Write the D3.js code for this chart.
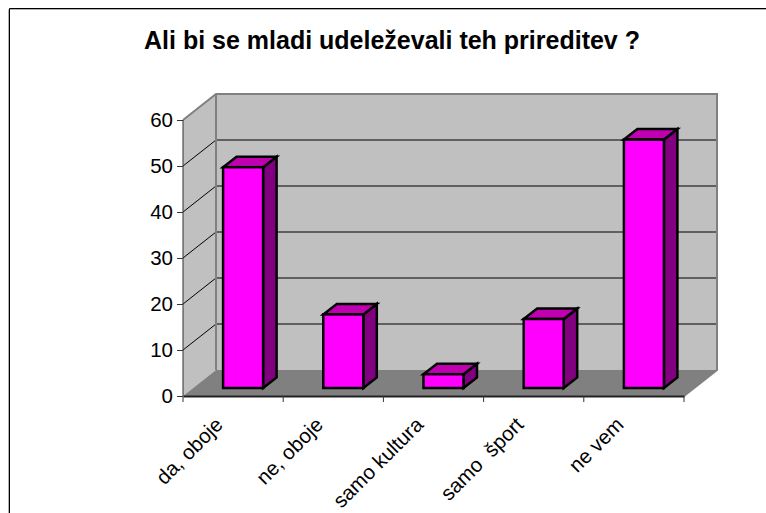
<!DOCTYPE html>
<html>
<head>
<meta charset="utf-8">
<script src="https://cdn.jsdelivr.net/npm/d3@7"></script>
<style>
    html, body { margin: 0; padding: 0; background: #fff; overflow: hidden; }
    text { font-family: "Liberation Sans", Arial, sans-serif; fill: #000; }
</style>
</head>
<body>
<div id="chart"></div>
<script>
const categories = ["da, oboje", "ne, oboje", "samo kultura", "samo  šport", "ne vem"];
const values = [48, 16, 3, 15, 54];
const yTicks = [0, 10, 20, 30, 40, 50, 60];
const title = "Ali bi se mladi udeleževali teh prireditev ?";

const svg = d3.select('#chart').append('svg')
    .attr('width', 766)
    .attr('height', 513);

// the chart frame is cut off by the picture: only top and left edges show
svg.append('path')
    .attr('d', 'M8.5,513V9.5H766')
    .attr('fill', 'none').attr('stroke', '#b0b0b0');
svg.append('path')
    .attr('d', 'M9.5,513V8.5H766')
    .attr('fill', 'none').attr('stroke', '#000');

svg.append('text')
    .attr('x', 392).attr('y', 49)
    .attr('text-anchor', 'middle')
    .style('font-size', '25px')
    .style('font-weight', 'bold')
    .text(title);

let x = d3.scaleBand().domain(categories).range([183, 684]);
let y = d3.scaleLinear().domain([0, 60]).range([396, 120]);

// depth of the fake 3d box, and how far the bars sit inside it
let depth = { dx: 33, dy: -26 };
let front = { dx: 10, dy: -8 };
let barDepth = { dx: 13.5, dy: -10.5 };
let barWidth = 40;
let line = d3.line();

let x0 = x.range()[0], x1 = x.range()[1];
let yBottom = y(0), yTop = y(60);

// side wall
svg.append('path')
    .attr('d', line([[x0, yBottom], [x0 + depth.dx, yBottom + depth.dy], [x0 + depth.dx, yTop + depth.dy], [x0, yTop]]) + 'Z')
    .attr('fill', '#c0c0c0');

// back wall
svg.append('rect')
    .attr('x', x0 + depth.dx).attr('y', yTop + depth.dy)
    .attr('width', x1 - x0).attr('height', yBottom - yTop)
    .attr('fill', '#c0c0c0');

// floor
svg.append('path')
    .attr('d', line([[x0, yBottom], [x0 + depth.dx, yBottom + depth.dy], [x1 + depth.dx, yBottom + depth.dy], [x1, yBottom]]) + 'Z')
    .attr('fill', '#808080');

// gridlines across side wall and back wall
yTicks.filter(d => d > 0 && d < 60).forEach(d => {
    svg.append('path')
        .attr('d', line([[x0, y(d)], [x0 + depth.dx, y(d) + depth.dy], [x1 + depth.dx, y(d) + depth.dy]]))
        .attr('fill', 'none').attr('stroke', '#000').attr('stroke-width', 1);
});

// wall outline
svg.append('path')
    .attr('d', line([[x0, yTop], [x0 + depth.dx, yTop + depth.dy], [x1 + depth.dx, yTop + depth.dy], [x1 + depth.dx, yBottom + depth.dy], [x1, yBottom]]))
    .attr('fill', 'none').attr('stroke', '#808080').attr('stroke-width', 2);
svg.append('line')
    .attr('x1', x0 + depth.dx).attr('x2', x0 + depth.dx)
    .attr('y1', yTop + depth.dy).attr('y2', yBottom + depth.dy)
    .attr('stroke', '#808080').attr('stroke-width', 2);

// axes
let yAxis = d3.axisLeft(y).tickValues(yTicks).tickSize(6).tickPadding(4);
let yG = svg.append('g').attr('transform', `translate(${x0},0)`).call(yAxis);
yG.selectAll('text').style('font-size', '20.5px');
yG.select('.domain').attr('d', `M0,${yTop}V${yBottom}`).attr('stroke', '#333');
yG.selectAll('.tick line').attr('stroke', '#333');

let xAxis = d3.axisBottom(x).tickSize(0).tickFormat('');
let xG = svg.append('g').attr('transform', `translate(0,${yBottom})`).call(xAxis);
xG.select('.domain').attr('stroke', '#222').attr('stroke-width', 2);

// ticks sit on the band edges, not the centres
let edges = categories.map(d => x(d)).concat([x1]);
svg.selectAll('.x-tick')
    .data(edges)
    .enter().append('line')
    .attr('class', 'x-tick')
    .attr('x1', d => d).attr('x2', d => d)
    .attr('y1', yBottom).attr('y2', yBottom + 6)
    .attr('stroke', '#333');

svg.selectAll('.x-label')
    .data(categories)
    .enter().append('text')
    .attr('class', 'x-label')
    .attr('text-anchor', 'end')
    .style('font-size', '20.5px')
    .style('white-space', 'pre')
    .attr('transform', d => `translate(${x(d) + x.bandwidth() / 2 - 9},${yBottom + 30}) rotate(-45)`)
    .text(d => d);

// bars: front, top and side faces
let bars = svg.selectAll('.bar')
    .data(categories.map((c, i) => ({ category: c, value: values[i] })))
    .enter().append('g')
    .attr('class', 'bar')
    .attr('stroke', '#000')
    .attr('stroke-width', 2.5)
    .attr('stroke-linejoin', 'miter');

let left = d => x(d.category) + x.bandwidth() / 2 - barWidth / 2 + front.dx;
let base = yBottom + front.dy;
let top_ = d => base - (yBottom - y(d.value));

bars.append('path')
    .attr('fill', '#800080')
    .attr('d', d => line([
        [left(d) + barWidth, base],
        [left(d) + barWidth + barDepth.dx, base + barDepth.dy],
        [left(d) + barWidth + barDepth.dx, top_(d) + barDepth.dy],
        [left(d) + barWidth, top_(d)]
    ]) + 'Z');

bars.append('path')
    .attr('fill', '#c000b0')
    .attr('d', d => line([
        [left(d), top_(d)],
        [left(d) + barDepth.dx, top_(d) + barDepth.dy],
        [left(d) + barWidth + barDepth.dx, top_(d) + barDepth.dy],
        [left(d) + barWidth, top_(d)]
    ]) + 'Z');

bars.append('rect')
    .attr('fill', '#ff00ff')
    .attr('x', left)
    .attr('y', top_)
    .attr('width', barWidth)
    .attr('height', d => base - top_(d));
</script>
</body>
</html>
